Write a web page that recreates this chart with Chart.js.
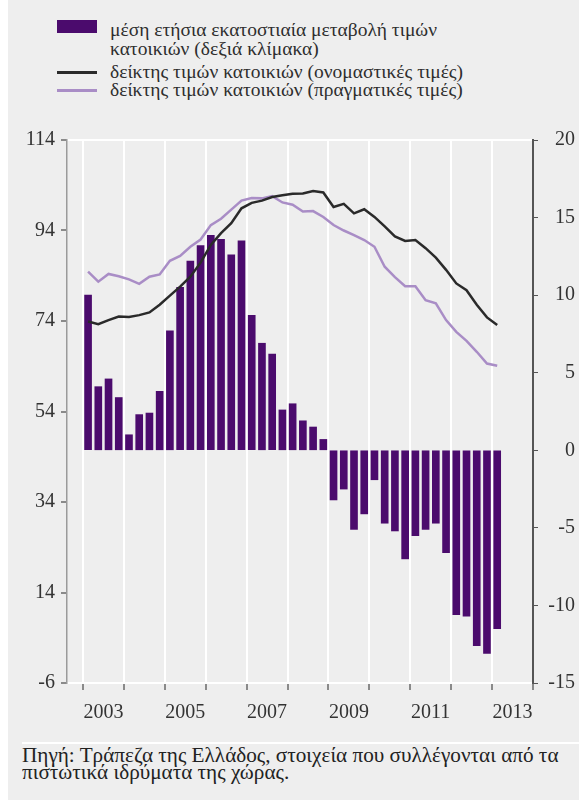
<!DOCTYPE html>
<html lang="el">
<head>
<meta charset="utf-8">
<title>Τιμές κατοικιών</title>
<script src="https://cdn.jsdelivr.net/npm/chart.js@4.4.1/dist/chart.umd.min.js"></script>
<style>
    html, body { margin: 0; padding: 0; background: #fff; }
    body { width: 579px; height: 800px; position: relative; overflow: hidden; font-family: "Liberation Serif", serif; }
    #panel { position: absolute; left: 8px; top: 0; width: 571px; height: 800px; background: #eeeeee; }
    .leg-text { position: absolute; left: 110px; font-size: 19.5px; line-height: 18px; white-space: nowrap; color: #2e2e2e; }
    .leg-sym { position: absolute; left: 57px; width: 40px; }
    #wrap { position: absolute; left: 0; top: 120px; width: 579px; height: 615px; }
    #sep { position: absolute; left: 22px; top: 742px; width: 557px; height: 2px; background: #fff; }
    .src { position: absolute; left: 22px; font-size: 20px; line-height: 18px; white-space: nowrap; color: #222;
           transform: scaleX(1.06); transform-origin: left center; }
</style>
</head>
<body>
<div id="panel"></div>

<div class="leg-sym" style="top:20px;height:13px;background:#4b0b6d"></div>
<div class="leg-text" style="top:21px">μέση ετήσια εκατοστιαία μεταβολή τιμών</div>
<div class="leg-text" style="top:40px">κατοικιών (δεξιά κλίμακα)</div>
<div class="leg-sym" style="top:71px;height:3px;background:#2a2a2a"></div>
<div class="leg-text" style="top:63px">δείκτης τιμών κατοικιών (ονομαστικές τιμές)</div>
<div class="leg-sym" style="top:89px;height:3px;background:#a98dc6"></div>
<div class="leg-text" style="top:81px">δείκτης τιμών κατοικιών (πραγματικές τιμές)</div>

<div id="wrap"><canvas id="grafica" width="579" height="615"></canvas></div>

<div id="sep"></div>
<div class="src" style="top:746px">Πηγή: Τράπεζα της Ελλάδος, στοιχεία που συλλέγονται από τα</div>
<div class="src" style="top:763px">πιστωτικά ιδρύματα της χώρας.</div>

<script>
// =======================================================
// DATOS (trimestrales, 2003Q1 - 2013Q1)
// =======================================================
const trimestres = [];
for (let a = 2003; a <= 2013; a++) {
    for (let q = 1; q <= 4; q++) {
        if (a === 2013 && q > 1) break;
        trimestres.push(a + "Q" + q);
    }
}

// μέση ετήσια εκατοστιαία μεταβολή (δεξιά κλίμακα)
const variacion = [
    10.0, 4.1, 4.6, 3.4, 1.0, 2.3, 2.4, 3.8,
    7.7, 10.5, 12.2, 13.2, 13.85, 13.6, 12.6, 13.5,
    8.7, 6.9, 6.2, 2.6, 3.0, 1.9, 1.5, 0.7,
    -3.2, -2.5, -5.1, -4.1, -1.9, -4.7, -5.2, -7.0,
    -5.5, -5.1, -4.7, -6.6, -10.6, -10.7, -12.6, -13.1,
    -11.5
];

// ονομαστικές τιμές
const nominal = [
    73.9, 73.3, 74.2, 75.0, 74.9, 75.3, 75.9, 77.6,
    79.6, 81.6, 83.8, 86.9, 90.8, 93.4, 95.6, 98.9,
    100.1, 100.6, 101.4, 101.8, 102.1, 102.2, 102.7, 102.4,
    99.2, 99.9, 97.8, 98.7, 97.0, 94.9, 92.7, 91.7,
    91.9, 90.1, 88.0, 85.3, 82.3, 80.8, 77.6, 74.8,
    73.1
];

// πραγματικές τιμές
const real = [
    84.9, 82.7, 84.4, 83.9, 83.2, 82.2, 83.8, 84.3,
    87.3, 88.4, 90.4, 92.0, 95.2, 96.6, 98.6, 100.6,
    101.2, 101.1, 101.6, 100.2, 99.7, 98.2, 98.3, 97.0,
    95.2, 94.0, 93.0, 91.9, 90.4, 86.0, 83.7, 81.7,
    81.7, 78.6, 77.9, 74.2, 71.6, 69.6, 67.2, 64.6,
    64.1
];

const ticksIzq = [-6, 14, 34, 54, 74, 94, 114];
const ticksDer = [-15, -10, -5, 0, 5, 10, 15, 20];
const anios = [2003, 2004, 2005, 2006, 2007, 2008, 2009, 2010, 2011, 2012, 2013, 2014];
const aniosEtiqueta = [2003, 2005, 2007, 2009, 2011, 2013];

// =======================================================
// AYUDANTES
// =======================================================
function posicion(t) {
    const a = parseInt(t.slice(0, 4));
    const q = parseInt(t.slice(5));
    return a + (q - 0.5) / 4;
}

function puntos(valores) {
    return trimestres.map((t, i) => ({ x: posicion(t), y: valores[i] }));
}

const fuente = { family: "'Liberation Serif', serif", size: 20 };

// =======================================================
// GRÁFICA
// =======================================================
const ctx = document.getElementById("grafica").getContext("2d");

new Chart(ctx, {
    data: {
        datasets: [
            {
                type: "line",
                label: "δείκτης τιμών κατοικιών (ονομαστικές τιμές)",
                data: puntos(nominal),
                yAxisID: "yL",
                borderColor: "#2a2a2a",
                borderWidth: 2.5,
                pointRadius: 0,
                tension: 0,
                order: 1
            },
            {
                type: "line",
                label: "δείκτης τιμών κατοικιών (πραγματικές τιμές)",
                data: puntos(real),
                yAxisID: "yL",
                borderColor: "#a98dc6",
                borderWidth: 2.5,
                pointRadius: 0,
                tension: 0,
                order: 2
            },
            {
                type: "bar",
                label: "μέση ετήσια εκατοστιαία μεταβολή τιμών κατοικιών",
                data: puntos(variacion),
                yAxisID: "yR",
                backgroundColor: "#4b0b6d",
                barThickness: 7,
                order: 3
            }
        ]
    },
    options: {
        responsive: false,
        animation: false,
        layout: { padding: { top: 0, bottom: 0, left: 0, right: 4 } },
        plugins: {
            legend: { display: false },
            tooltip: { enabled: true }
        },
        scales: {
            x: {
                type: "linear",
                position: "bottom",
                offset: false,
                min: 2002.61,
                max: 2014,
                weight: 0,
                afterBuildTicks: s => { s.ticks = anios.map(v => ({ value: v })); },
                afterFit: s => { s.height = 10; },
                ticks: { callback: () => "", padding: 0 },
                grid: {
                    offset: false,
                    color: c => (c.tick && c.tick.value < 2014 ? "#ffffff" : "rgba(0,0,0,0)"),
                    lineWidth: 2,
                    tickColor: "#8a8a8a",
                    tickLength: 7,
                    drawTicks: true
                },
                border: { display: false }
            },
            xl: {
                type: "linear",
                position: "bottom",
                offset: false,
                min: 2002.61,
                max: 2014,
                weight: 1,
                afterBuildTicks: s => { s.ticks = aniosEtiqueta.map(v => ({ value: v + 0.5 })); },
                afterFit: s => { s.height = 42; },
                ticks: {
                    autoSkip: false,
                    maxRotation: 0,
                    font: fuente,
                    color: "#333",
                    padding: 0,
                    callback: v => String(Math.floor(v))
                },
                grid: { display: false },
                border: { display: false }
            },
            yL: {
                type: "linear",
                position: "left",
                min: -6,
                max: 114,
                afterBuildTicks: s => { s.ticks = ticksIzq.map(v => ({ value: v })); },
                afterFit: s => { s.width = 67; },
                ticks: { font: fuente, color: "#333", padding: 6 },
                grid: {
                    color: c => (c.tick && (c.tick.value === 114 || c.tick.value === -6) ? "#ffffff" : "rgba(0,0,0,0)"),
                    lineWidth: 2,
                    tickColor: "#8a8a8a",
                    tickLength: 6
                },
                border: { color: "#9a9a9a", width: 1.5 }
            },
            yR: {
                type: "linear",
                position: "right",
                min: -15,
                max: 20,
                afterBuildTicks: s => { s.ticks = ticksDer.map(v => ({ value: v })); },
                afterFit: s => { s.width = 42; },
                ticks: { font: fuente, color: "#333", padding: 8, crossAlign: "far" },
                grid: {
                    drawOnChartArea: false,
                    tickColor: "#555",
                    tickLength: 5
                },
                border: { color: "#555", width: 2 }
            }
        }
    }
});
</script>
</body>
</html>
